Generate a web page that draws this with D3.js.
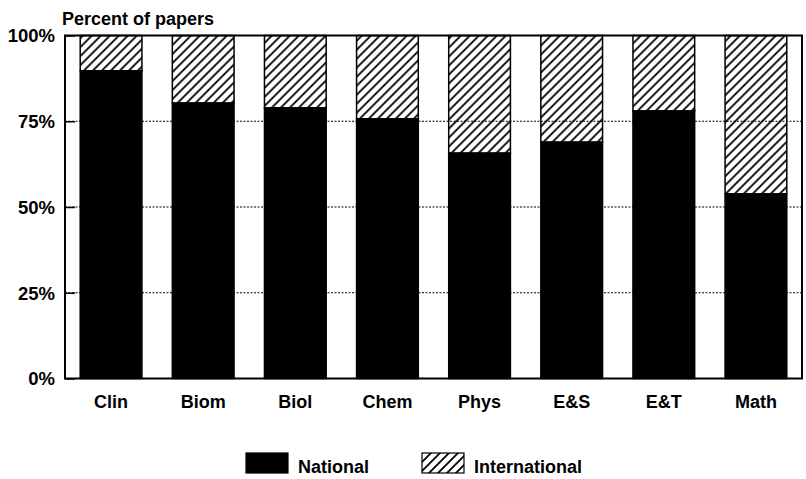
<!DOCTYPE html>
<html lang="en">
<head>
<meta charset="UTF-8">
<title>Percent of papers</title>
<script src="https://d3js.org/d3.v7.min.js"></script>
<style>
  body { margin: 0; background: #fff; }
  text { font-family: "Liberation Sans", Arial, sans-serif; fill: #000; }
</style>
</head>
<body>
<div id="chart"></div>
<script>
// Data (percent of papers)
var fields = ["Clin", "Biom", "Biol", "Chem", "Phys", "E&S", "E&T", "Math"];
var national = [89.7, 80.3, 78.9, 75.7, 65.7, 68.9, 78.0, 53.8];
var international = national.map(function (v) { return 100 - v; });
var yTicks = [0, 25, 50, 75, 100];
var seriesNames = ["National", "International"];

var W = 806, H = 479;
var margin = {top: 35.5, right: 4, bottom: 100.5, left: 65};
var width = W - margin.left - margin.right;
var height = H - margin.top - margin.bottom;

var svg = d3.select("#chart").append("svg")
    .attr("width", W)
    .attr("height", H);

// hatch pattern for the international share
var defs = svg.append("defs");
defs.append("pattern")
    .attr("id", "hatch")
    .attr("patternUnits", "userSpaceOnUse")
    .attr("width", 9)
    .attr("height", 9)
  .append("path")
    .attr("d", "M-2,2 L2,-2 M0,9 L9,0 M7,11 L11,7")
    .attr("stroke", "#000")
    .attr("stroke-width", 1.8);

var g = svg.append("g")
    .attr("transform", "translate(" + margin.left + "," + margin.top + ")");

var x = d3.scaleBand()
    .domain(fields)
    .range([0, width])
    .paddingInner(0.33)
    .paddingOuter(0.165);

var y = d3.scaleLinear()
    .domain([0, 100])
    .range([height, 0]);

// dotted gridlines
g.append("g")
    .selectAll("line")
    .data(yTicks.filter(function (t) { return t > 0 && t < 100; }))
    .join("line")
      .attr("x1", 0)
      .attr("x2", width)
      .attr("y1", function (d) { return y(d); })
      .attr("y2", function (d) { return y(d); })
      .attr("stroke", "#000")
      .attr("stroke-width", 1.2)
      .attr("stroke-dasharray", "2,1.5");

// stacked bars
var rows = fields.map(function (f, i) {
  return {field: f, National: national[i], International: international[i]};
});
var stacked = d3.stack().keys(seriesNames)(rows);
var fills = {National: "#000", International: "url(#hatch)"};

g.append("g")
    .selectAll("g")
    .data(stacked)
    .join("g")
      .attr("fill", function (d) { return fills[d.key]; })
    .selectAll("rect")
    .data(function (d) { return d; })
    .join("rect")
      .attr("x", function (d) { return x(d.data.field); })
      .attr("y", function (d) { return y(d[1]); })
      .attr("width", x.bandwidth())
      .attr("height", function (d) { return y(d[0]) - y(d[1]); })
      .attr("stroke", "#000")
      .attr("stroke-width", 1.5);

// frame
g.append("rect")
    .attr("x", 0)
    .attr("y", 0)
    .attr("width", width)
    .attr("height", height)
    .attr("fill", "none")
    .attr("stroke", "#000")
    .attr("stroke-width", 2);

// y axis
var yAxis = g.append("g")
    .call(d3.axisLeft(y).tickValues(yTicks).tickSize(-10).tickPadding(10)
      .tickFormat(function (d) { return d + "%"; }));
yAxis.select(".domain").remove();
yAxis.selectAll("line").attr("stroke", "#000").attr("stroke-width", 1.5);
yAxis.selectAll("text")
    .style("font-size", "18.5px")
    .style("font-weight", "bold")
    .attr("dy", "0.35em");

// x axis labels
var xAxis = g.append("g")
    .attr("transform", "translate(0," + height + ")")
    .call(d3.axisBottom(x).tickSize(0).tickPadding(17));
xAxis.select(".domain").remove();
xAxis.selectAll("text")
    .style("font-size", "18px")
    .style("font-weight", "bold")
    .attr("dy", "0.71em");

// axis title
svg.append("text")
    .attr("x", 62)
    .attr("y", 25)
    .style("font-size", "18px")
    .style("font-weight", "bold")
    .text("Percent of papers");

// legend
var legendX = [246, 422];
var legend = svg.append("g")
    .selectAll("g")
    .data(seriesNames)
    .join("g")
      .attr("transform", function (d, i) { return "translate(" + legendX[i] + ",453)"; });
legend.append("rect")
    .attr("width", 42)
    .attr("height", 20)
    .attr("fill", function (d) { return fills[d]; })
    .attr("stroke", "#000")
    .attr("stroke-width", 1.2);
legend.append("text")
    .attr("x", 52)
    .attr("y", 20)
    .style("font-size", "18px")
    .style("font-weight", "bold")
    .text(function (d) { return d; });
</script>
</body>
</html>
